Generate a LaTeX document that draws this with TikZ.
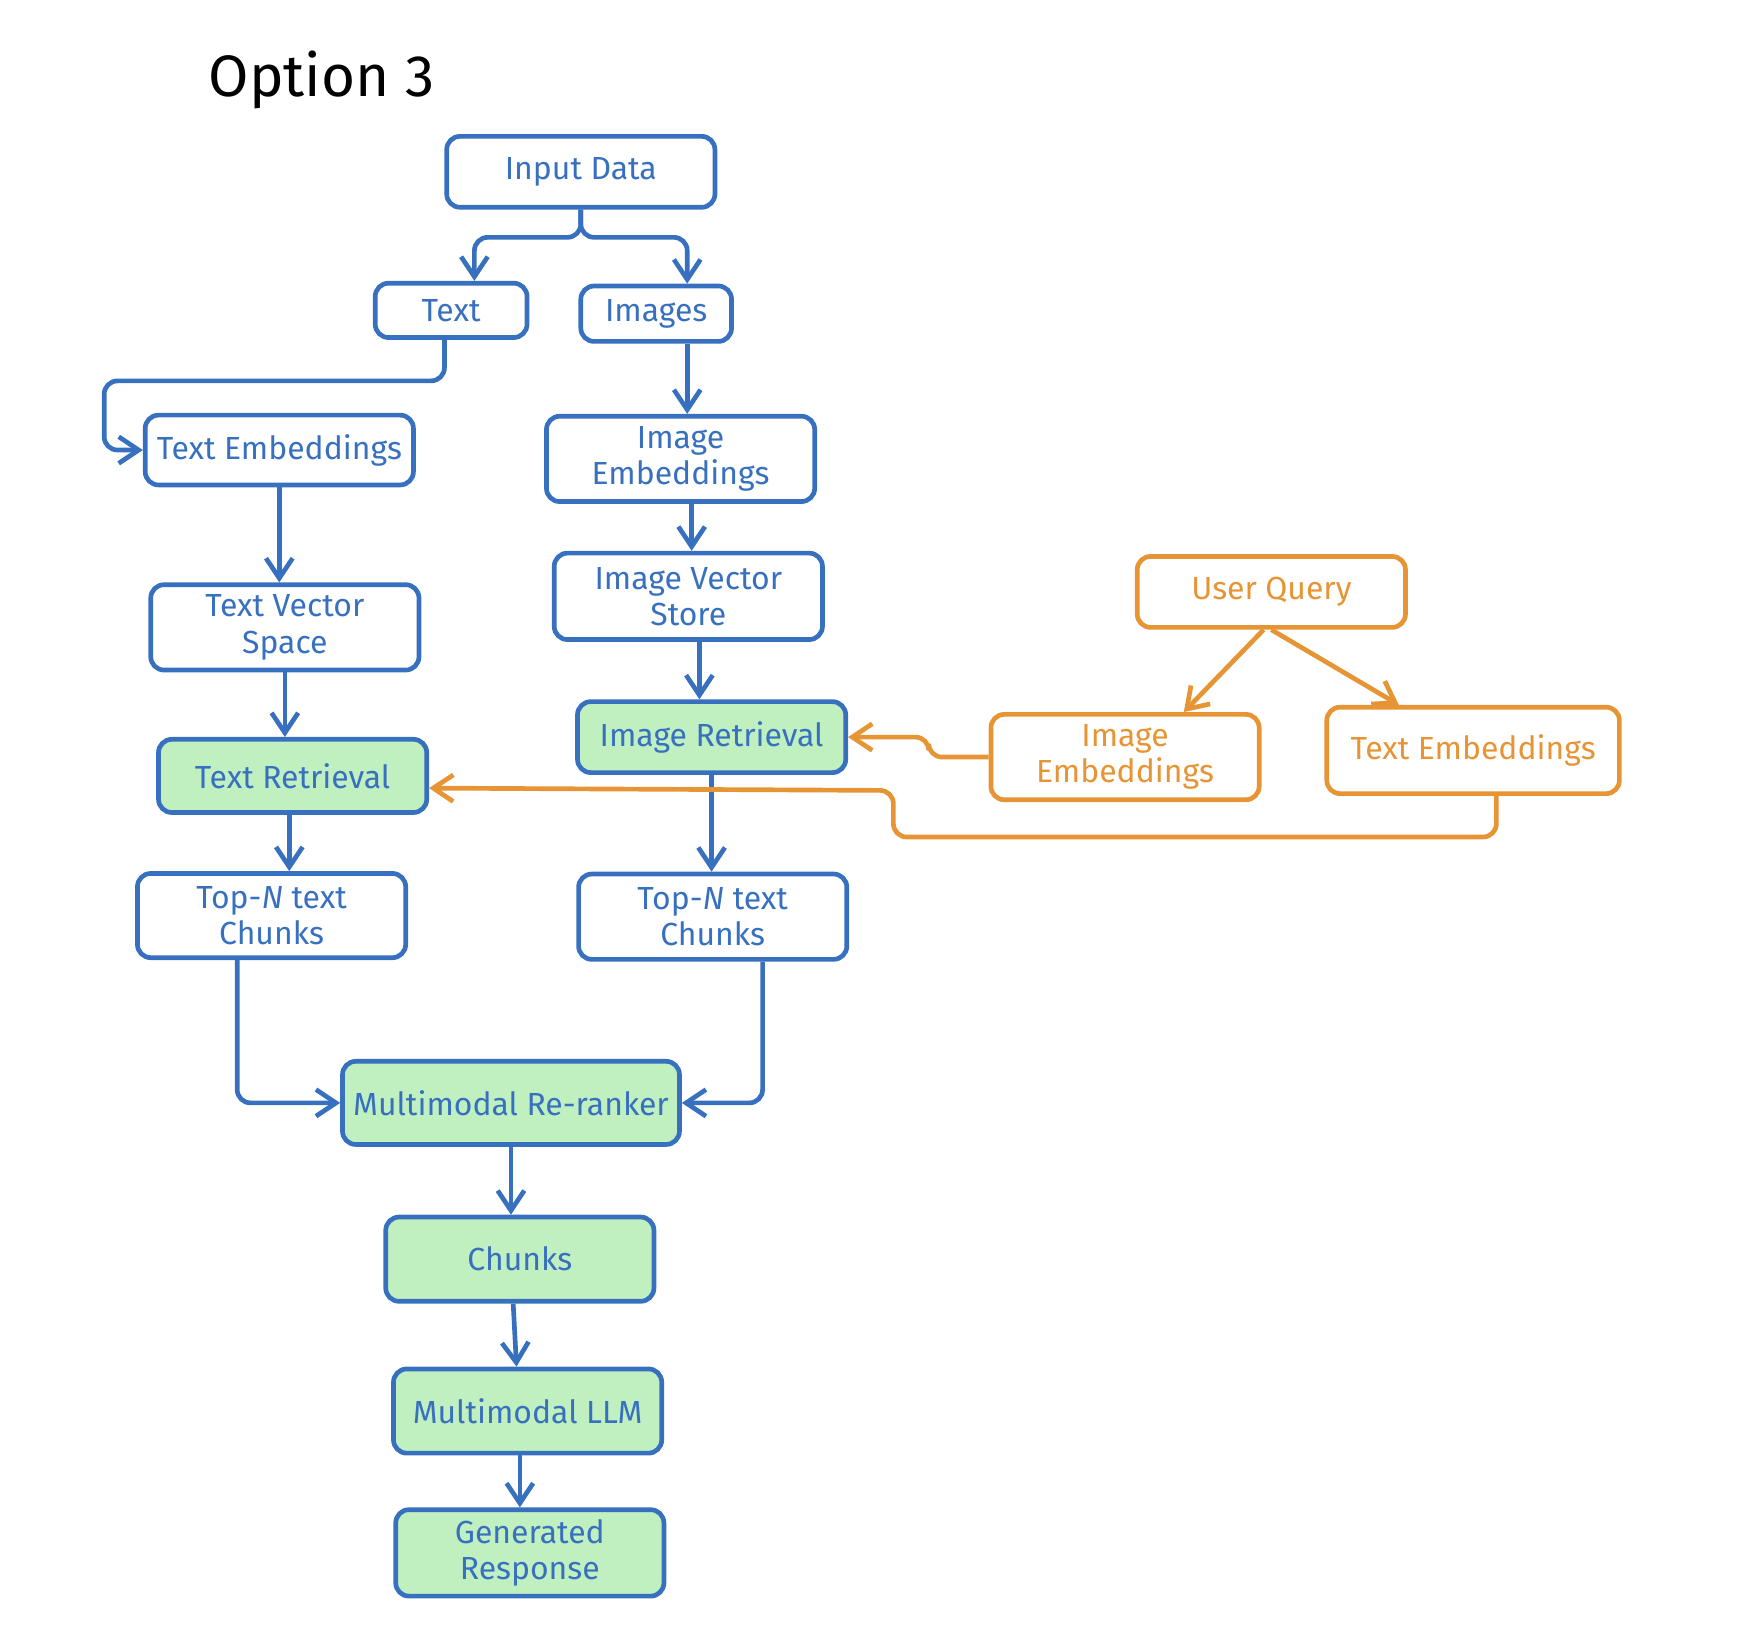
\documentclass[tikz,border=0pt]{standalone}
\usepackage{fontspec}
\setmainfont{Fira Sans}
\usetikzlibrary{arrows.meta}
\definecolor{sketchblue}{RGB}{56,112,192}
\definecolor{sketchorange}{RGB}{230,148,52}
\definecolor{sketchgreen}{RGB}{192,240,192}
\tikzset{
  box/.style={draw=sketchblue, text=sketchblue, line width=1.2pt, rounded corners=1.2mm,
    minimum width=24.2mm, minimum height=6.4mm, inner sep=0pt, align=center,
    font=\fontsize{8.2}{9.3}\selectfont},
  hit/.style={box, fill=sketchgreen},
  qbox/.style={box, draw=sketchorange, text=sketchorange},
  flow/.style={draw=sketchblue, line width=1.2pt, rounded corners=1.2mm,
    -{Straight Barb[length=1.8mm,width=2.4mm]}},
  qflow/.style={flow, draw=sketchorange},
}
\begin{document}
\begin{tikzpicture}[x=0.1mm,y=-0.1mm]
\useasboundingbox (0,0) rectangle (1568,1481);
\node[font=\fontsize{15}{17}\selectfont] (title) at (290,72) {Option 3};

\node[box] (inp) at (524,155) {Input Data};
\node[box, minimum width=13.7mm, minimum height=4.9mm] (txt) at (407,280) {Text};
\node[box, minimum width=13.6mm, minimum height=5mm] (img) at (592,283) {Images};
\node[box, minimum height=6.3mm] (temb) at (252,406) {Text Embeddings};
\node[box, minimum height=7.7mm] (iemb) at (614,414) {Image\\Embeddings};
\node[box, minimum height=7.8mm] (ivs) at (621,538) {Image Vector\\Store};
\node[box, minimum height=7.7mm] (tvs) at (257,566) {Text Vector\\Space};
\node[hit, minimum height=6.6mm] (tret) at (264,700) {Text Retrieval};
\node[hit] (iret) at (642,665) {Image Retrieval};
\node[qbox] (query) at (1147,534) {User Query};
\node[qbox, minimum height=7.7mm] (qiemb) at (1015,683) {Image\\Embeddings};
\node[qbox, minimum width=26.4mm, minimum height=7.8mm] (qtemb) at (1329,677) {Text Embeddings};
\node[box, minimum height=7.6mm] (ltop) at (245,826) {Top-\textit{N} text\\Chunks};
\node[box, minimum height=7.7mm] (rtop) at (643,827) {Top-\textit{N} text\\Chunks};
\node[hit, minimum width=30.4mm, minimum height=7.5mm] (rerank) at (461,995) {Multimodal Re-ranker};
\node[hit, minimum height=7.6mm] (chunks) at (469,1136) {Chunks};
\node[hit, minimum height=7.6mm] (llm) at (476,1273) {Multimodal LLM};
\node[hit, minimum height=7.8mm] (resp) at (478,1401) {Generated\\Response};

% data side
\draw[flow] (inp.south) -- ++(0,25) -| ([xshift=2.1mm]txt.north);
\draw[flow] (inp.south) -- ++(0,25) -| ([xshift=2.8mm]img.north);
\draw[flow] ([xshift=-0.6mm]txt.south) -- ++(0,37) -- ++(-307,0) |- (temb.west);
\draw[flow] ([xshift=2.8mm]img.south) -- ([xshift=2.8mm]img.south |- iemb.north);
\draw[flow] (temb.south) -- (temb.south |- tvs.north);
\draw[flow] ([xshift=1mm]iemb.south) -- ([xshift=1mm]iemb.south |- ivs.north);
\draw[flow] ([xshift=1mm]ivs.south) -- ([xshift=1mm]ivs.south |- iret.north);
\draw[flow] (tvs.south) -- (tvs.south |- tret.north);
\draw[flow] ([xshift=-0.3mm]tret.south) -- ([xshift=-0.3mm]tret.south |- ltop.north);
\draw[flow] (iret.south) -- (iret.south |- rtop.north);
\draw[flow] ([xshift=-3.1mm]ltop.south) |- (rerank.west);
\draw[flow] ([xshift=4.5mm]rtop.south) |- (rerank.east);
\draw[flow] (rerank.south) -- (rerank.south |- chunks.north);
\draw[flow] ([xshift=-0.6mm]chunks.south) -- ([xshift=-1mm]llm.north);
\draw[flow] ([xshift=-0.7mm]llm.south) -- ([xshift=-0.7mm]llm.south |- resp.north);

% query side
\draw[qflow] ([xshift=-0.7mm]query.south) -- ([xshift=5.3mm]qiemb.north);
\draw[qflow] (query.south) -- ([xshift=-6.7mm]qtemb.north);
\draw[qflow] (qiemb.west) -- ++(-54,0) |- (iret.east);
\draw[qflow] ([xshift=2.1mm]qtemb.south) -- ++(0,37) -| ++(-544,-42) -- ([yshift=-1.1mm]tret.east);
\end{tikzpicture}
\end{document}
